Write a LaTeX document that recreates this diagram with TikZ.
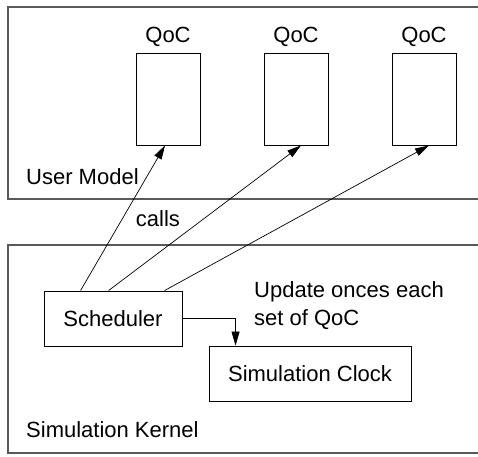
\documentclass[tikz,border=0pt]{standalone}
\usepackage{fontspec}
\setmainfont{Liberation Sans}
\usepackage{tikz}
\usetikzlibrary{arrows.meta}
\tikzstyle{every node}=[inner sep=0pt, font=\fontsize{22}{28}\selectfont]
\tikzset{frame/.style={draw=black!65, line width=1.3pt},
  qocbox/.style={draw, line width=0.9pt, minimum width=64pt, minimum height=92pt},
  unitbox/.style={draw, line width=0.9pt, minimum height=55pt},
  call/.style={-{Triangle[length=14pt,width=8pt]}, line width=0.7pt}}

\begin{document}
\begin{tikzpicture}[x=1pt, y=-1pt]
    \useasboundingbox (0,0) rectangle (478,456);
    \draw[frame] (478,7) -- (8,7) -- (8,199) -- (478,199);
    \draw[frame] (478,245) -- (8,245) -- (8,453) -- (478,453);
    \node[qocbox] (q1) at (168,99) {};
    \node[qocbox] (q2) at (296,99) {};
    \node[qocbox] (q3) at (424,99) {};
    \node (l1) at (168,37) {QoC};
    \node (l2) at (296,37) {QoC};
    \node (l3) at (424,37) {QoC};
    \node[anchor=west] (um) at (26,177) {User Model};
    \node (calls) at (158,219) {calls};
    \node[unitbox, minimum width=138pt] (sched) at (113,318.5) {Scheduler};
    \node[unitbox, minimum width=202pt] (clock) at (310,373.5) {Simulation Clock};
    \node[anchor=west, align=left] (upd) at (254,306) {Update onces each\\set of QoC};
    \node[anchor=west] (sk) at (26,430) {Simulation Kernel};
    \draw[call] ([xshift=37pt]sched.north west) -- ([xshift=-3pt]q1.south);
    \draw[call] ([xshift=65pt]sched.north west) -- ([xshift=5pt]q2.south);
    \draw[call] ([xshift=121pt]sched.north west) -- ([xshift=5pt]q3.south);
    \draw[call] (sched.east) -| ([xshift=27pt]clock.north west);
\end{tikzpicture}
\end{document}
